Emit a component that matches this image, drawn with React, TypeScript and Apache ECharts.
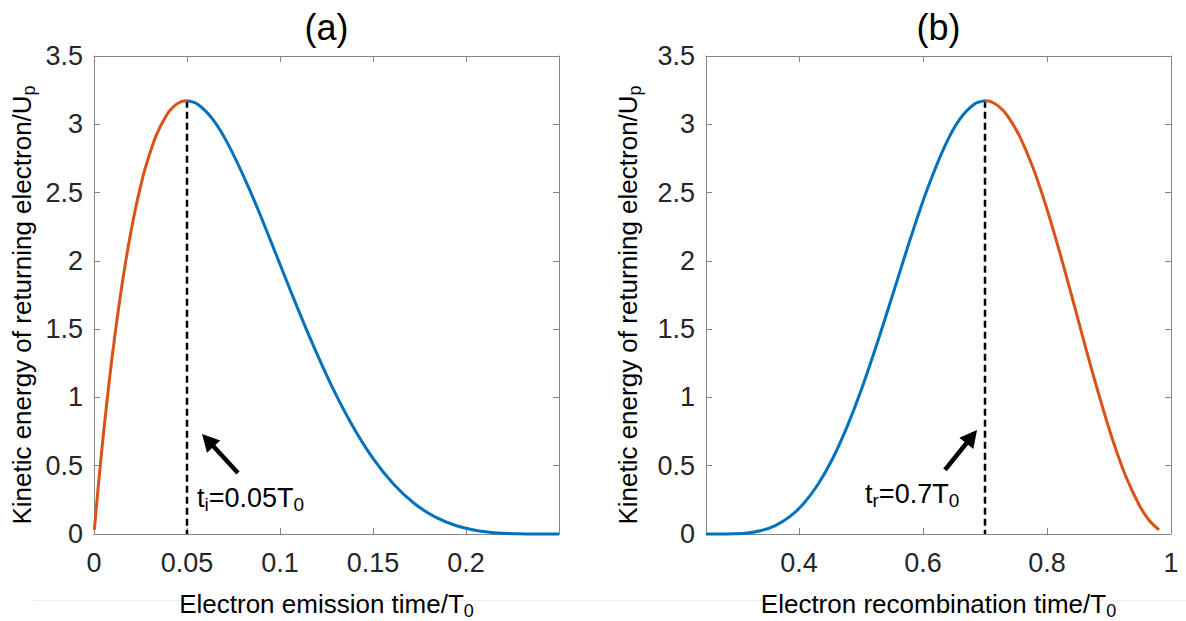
import React, { useEffect, useRef } from "react";
import * as echarts from "echarts";

const WIDTH = 1186;
const HEIGHT = 621;

// Tick values (time in units of T0, energy in units of Up)
const emissionTicks = [0, 0.05, 0.1, 0.15, 0.2];
const recombinationTicks = [0.4, 0.6, 0.8, 1];

// Long trajectories: emitted before the cut-off phase, returning late
const longEmission = [
  0.00019, 0.000694, 0.001389, 0.002778, 0.004167, 0.005556, 0.008333, 0.011111,
  0.013889, 0.016667, 0.019444, 0.022222, 0.025, 0.027778, 0.033333, 0.038889,
  0.043056, 0.047222, 0.05,
];
const longRecombination = [
  0.9806, 0.9634, 0.9485, 0.92764, 0.91181, 0.89853, 0.87639, 0.85775, 0.84136,
  0.82653, 0.81289, 0.80017, 0.78817, 0.77681, 0.75553, 0.73581, 0.72183, 0.70839,
  0.7,
];
const longEnergy = [
  0.03, 0.108, 0.214, 0.417, 0.61, 0.794, 1.135, 1.442, 1.718, 1.965, 2.183, 2.376,
  2.544, 2.689, 2.915, 3.065, 3.133, 3.167, 3.173,
];

// Short trajectories: emitted after the cut-off phase, returning early
const shortEmission = [
  0.05, 0.055556, 0.063889, 0.072222, 0.083333, 0.094444, 0.105556, 0.116667,
  0.127778, 0.138889, 0.15, 0.161111, 0.172222, 0.183333, 0.194444, 0.205556,
  0.216667, 0.227778, 0.238889, 0.25,
];
const shortRecombination = [
  0.7, 0.683, 0.65908, 0.63633, 0.60744, 0.57989, 0.55339, 0.52769, 0.50269,
  0.47827, 0.45431, 0.43075, 0.4075, 0.38456, 0.36181, 0.33925, 0.31681, 0.2944,
  0.2722, 0.25,
];
const shortEnergy = [
  3.173, 3.149, 3.036, 2.851, 2.531, 2.165, 1.785, 1.419, 1.084, 0.794, 0.553,
  0.364, 0.223, 0.125, 0.062, 0.026, 0.008, 0.002, 0.0001, 0,
];

// Cut-off point marked by the dashed lines
const cutoffEmission = 0.05;
const cutoffRecombination = 0.7;
const cutoffEnergy = 3.173;

const BLUE = "#0072BD";
const ORANGE = "#D95319";
const AXIS_GRAY = "#858585";
const TICK_TEXT = "#262626";
const FONT = "'Liberation Sans', Arial, Helvetica, sans-serif";

const zip = (xs: number[], ys: number[]) => xs.map((x, i) => [x, ys[i]]);

function xAxes(gridIndex: number, min: number, max: number, ticks: number[]) {
  const common = {
    type: "value",
    gridIndex,
    min,
    max,
    axisLine: { show: true, onZero: false, lineStyle: { color: AXIS_GRAY, width: 1 } },
    axisTick: { show: true, inside: true, length: 6, customValues: ticks, lineStyle: { color: AXIS_GRAY } },
    splitLine: { show: false },
  };
  return [
    {
      ...common,
      position: "bottom",
      axisLabel: {
        show: true,
        customValues: ticks,
        margin: 15,
        fontSize: 27,
        color: TICK_TEXT,
        fontFamily: FONT,
        formatter: (v: number) => String(v),
      },
    },
    { ...common, position: "top", axisLabel: { show: false } },
  ];
}

function yAxes(gridIndex: number) {
  const common = {
    type: "value",
    gridIndex,
    min: 0,
    max: 3.5,
    interval: 0.5,
    axisLine: { show: true, onZero: false, lineStyle: { color: AXIS_GRAY, width: 1 } },
    axisTick: { show: true, inside: true, length: 6, lineStyle: { color: AXIS_GRAY } },
    splitLine: { show: false },
  };
  return [
    {
      ...common,
      position: "left",
      axisLabel: {
        show: true,
        margin: 11,
        fontSize: 27,
        color: TICK_TEXT,
        fontFamily: FONT,
        formatter: (v: number) => String(v),
      },
    },
    { ...common, position: "right", axisLabel: { show: false } },
  ];
}

function curve(data: number[][], color: string, axis: number) {
  return {
    type: "line",
    xAxisIndex: axis,
    yAxisIndex: axis,
    data,
    smooth: 0.35,
    symbol: "none",
    clip: false,
    z: 3,
    lineStyle: { color, width: 3 },
  };
}

function dashed(x: number, axis: number) {
  return {
    type: "line",
    xAxisIndex: axis,
    yAxisIndex: axis,
    data: [
      [x, cutoffEnergy],
      [x, 0],
    ],
    symbol: "none",
    clip: false,
    z: 2,
    lineStyle: { color: "#000", width: 2.5, type: [7, 4] },
  };
}

function buildOption() {
  const recombShort = zip(shortRecombination, shortEnergy).reverse();
  const recombLong = zip(longRecombination, longEnergy).reverse();
  return {
    animation: false,
    backgroundColor: "#fff",
    grid: [
      { left: 94, top: 56, width: 465, height: 478, containLabel: false, outerBoundsMode: "none" },
      { left: 706, top: 56, width: 465, height: 478, containLabel: false, outerBoundsMode: "none" },
    ],
    xAxis: [
      ...xAxes(0, 0, 0.25, emissionTicks),
      ...xAxes(1, 0.25, 1, recombinationTicks),
    ],
    yAxis: [...yAxes(0), ...yAxes(1)],
    series: [
      dashed(cutoffEmission, 0),
      curve(zip(longEmission, longEnergy), ORANGE, 0),
      curve(zip(shortEmission, shortEnergy), BLUE, 0),
      dashed(cutoffRecombination, 2),
      curve(recombShort, BLUE, 2),
      curve(recombLong, ORANGE, 2),
    ],
  };
}

// Annotation anchors in data coordinates
const arrowA = { tail: [0.0774, 0.447], tip: [0.0581, 0.732] };
const arrowB = { tail: [0.6355, 0.469], tip: [0.6871, 0.761] };
const labelA = { at: [0.0554, 0.267], text: "t{sub|i}=0.05T{sub|0}" };
const labelB = { at: [0.5065, 0.293], text: "t{sub|r}=0.7T{sub|0}" };

const sub = (size: number) => ({
  sub: {
    fontSize: size,
    lineHeight: size,
    verticalAlign: "bottom",
    fontFamily: FONT,
    fill: "#000",
    color: "#000",
  },
});

function textEl(
  text: string,
  x: number,
  y: number,
  size: number,
  align: string,
  rotation = 0,
  subSize = Math.round(size * 0.7)
) {
  return {
    type: "text",
    x,
    y,
    rotation,
    z: 10,
    style: {
      text,
      fontSize: size,
      fontFamily: FONT,
      fill: "#000",
      lineHeight: size + 5,
      align,
      verticalAlign: "middle",
      rich: sub(subSize),
    },
  };
}

function arrowEls(tail: number[], tip: number[]) {
  const dx = tip[0] - tail[0];
  const dy = tip[1] - tail[1];
  const len = Math.hypot(dx, dy);
  const ux = dx / len;
  const uy = dy / len;
  const headLen = 17;
  const headHalf = 9;
  const bx = tip[0] - ux * headLen;
  const by = tip[1] - uy * headLen;
  return [
    {
      type: "line",
      z: 10,
      shape: { x1: tail[0], y1: tail[1], x2: bx + ux * 2, y2: by + uy * 2 },
      style: { stroke: "#000", lineWidth: 4.5 },
    },
    {
      type: "polygon",
      z: 10,
      shape: {
        points: [
          [tip[0], tip[1]],
          [bx - uy * headHalf, by + ux * headHalf],
          [bx + uy * headHalf, by - ux * headHalf],
        ],
      },
      style: { fill: "#000" },
    },
  ];
}

function buildGraphic(chart: echarts.ECharts) {
  const px = (panel: number, pt: number[]) =>
    chart.convertToPixel({ xAxisIndex: panel * 2, yAxisIndex: panel * 2 }, pt) as number[];
  const aTail = px(0, arrowA.tail);
  const aTip = px(0, arrowA.tip);
  const bTail = px(1, arrowB.tail);
  const bTip = px(1, arrowB.tip);
  const aLabel = px(0, labelA.at);
  const bLabel = px(1, labelB.at);
  const yTitle = "Kinetic energy of returning electron/U{sub|p}";
  return [
    {
      type: "line",
      z: 0,
      shape: { x1: 33, y1: 600.5, x2: WIDTH, y2: 600.5 },
      style: { stroke: "#eeeeee", lineWidth: 1 },
    },
    textEl("(a)", 326.5, 27, 36, "center"),
    textEl("(b)", 938.5, 27, 36, "center"),
    textEl("Electron emission time/T{sub|0}", 326.5, 604, 26, "center"),
    textEl("Electron recombination time/T{sub|0}", 938.5, 604, 26, "center"),
    textEl(yTitle, 22, 305, 26, "center", Math.PI / 2),
    textEl(yTitle, 628, 305, 26, "center", Math.PI / 2),
    ...arrowEls(aTail, aTip),
    ...arrowEls(bTail, bTip),
    textEl(labelA.text, aLabel[0], aLabel[1], 27, "left"),
    textEl(labelB.text, bLabel[0], bLabel[1], 27, "left"),
  ];
}

export default function App() {
  const ref = useRef<HTMLDivElement>(null);
  useEffect(() => {
    document.body.style.margin = "0";
    const el = ref.current;
    if (!el) return;
    const chart = echarts.init(el, null, { renderer: "svg" });
    chart.setOption(buildOption() as any);
    chart.setOption({ graphic: buildGraphic(chart) } as any);
    return () => chart.dispose();
  }, []);
  return <div ref={ref} style={{ width: WIDTH, height: HEIGHT }} />;
}
